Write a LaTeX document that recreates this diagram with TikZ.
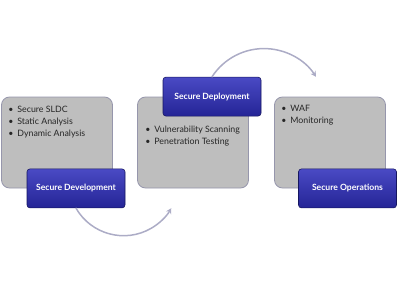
\documentclass[tikz,border=0pt]{standalone}
\usepackage{fontspec}
\setmainfont{Lato}
\usetikzlibrary{arrows.meta,positioning}
\definecolor{panelgray}{RGB}{190,190,190}
\definecolor{panelline}{RGB}{150,150,172}
\definecolor{phasetop}{RGB}{74,74,196}
\definecolor{phasebot}{RGB}{36,36,150}
\definecolor{phaseline}{RGB}{22,22,96}
\definecolor{loopline}{RGB}{172,172,198}
\begin{document}
\begin{tikzpicture}[x=1pt, y=-1pt, line join=round, line cap=round,
	panel/.style={draw=panelline, line width=.8pt, fill=panelgray, rounded corners=8pt, minimum width=111pt, minimum height=91pt, inner sep=0pt},
	phase/.style={draw=phaseline, line width=.6pt, top color=phasetop, bottom color=phasebot, rounded corners=3pt, minimum width=98pt, minimum height=39pt, inner sep=0pt, text=white, font=\bfseries\fontsize{8.6}{10}\selectfont},
	items/.style={inner sep=0pt, align=left, text=black!85, font=\fontsize{8.8}{12}\selectfont},
	loop/.style={draw=loopline, line width=1.5pt, -{Stealth[length=5.5pt,width=6pt]}}]
	\useasboundingbox (0,0) rectangle (400,287);
	\foreach \n/\x in {pdev/57, pdep/193, pops/330}
	\node[panel] (\n) at (\x,142.5) {};
	% bullet lists
	\node[items, below right=9.5pt and 7pt of pdev.north west] (ldev) {\textbullet\hspace{4pt}Secure SLDC\\\textbullet\hspace{4pt}Static Analysis\\\textbullet\hspace{4pt}Dynamic Analysis};
	\node[items, below right=29pt and 8pt of pdep.north west] (ldep) {\textbullet\hspace{4pt}Vulnerability Scanning\\\textbullet\hspace{4pt}Penetration Testing};
	\node[items, below right=8pt and 7pt of pops.north west] (lops) {\textbullet\hspace{4pt}WAF\\\textbullet\hspace{4pt}Monitoring};
	% phase labels
	\node[phase] (dev) at ([xshift=19pt]pdev.south) {Secure Development};
	\node[phase] (depl) at ([xshift=19pt]pdep.north) {Secure Deployment};
	\node[phase] (ops) at ([xshift=17.5pt]pops.south) {Secure Operations};
	\draw[loop] (dev.south) arc[start angle=150, end angle=30, radius=55];
	\draw[loop] (depl.north) arc[start angle=-147, end angle=-33, radius=62];
\end{tikzpicture}
\end{document}
